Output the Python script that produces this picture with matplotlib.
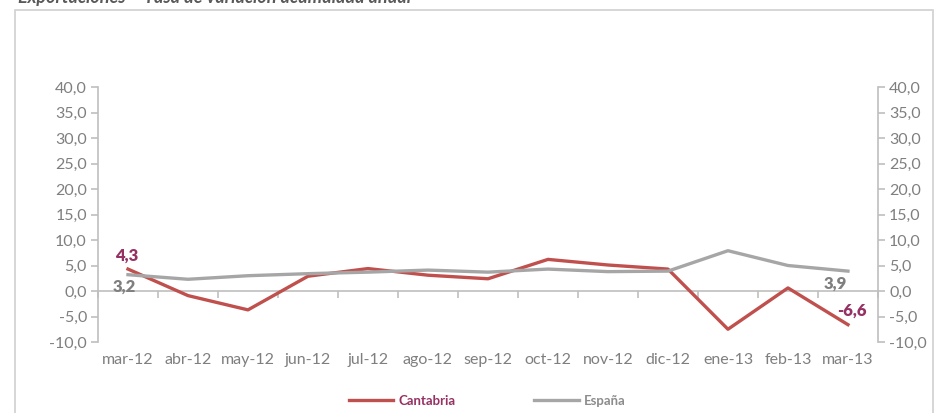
import matplotlib.pyplot as plt
import matplotlib.patches as mpatches

plt.rcParams['font.family'] = ['Lato', 'DejaVu Sans']

# datos
meses = ['mar-12', 'abr-12', 'may-12', 'jun-12', 'jul-12', 'ago-12', 'sep-12',
         'oct-12', 'nov-12', 'dic-12', 'ene-13', 'feb-13', 'mar-13']
cantabria = [4.3, -0.9, -3.7, 2.9, 4.4, 3.1, 2.4, 6.2, 5.1, 4.3, -7.5, 0.6, -6.6]
espana = [3.2, 2.3, 3.0, 3.4, 3.7, 4.1, 3.7, 4.3, 3.8, 3.9, 7.9, 5.0, 3.9]
yticks = [-10, -5, 0, 5, 10, 15, 20, 25, 30, 35, 40]

c_red = '#c0504d'
c_gray = '#a6a6a6'
c_purple = '#953163'
c_lbl = '#7f7f7f'
c_axis = '#bfbfbf'

fig = plt.figure(figsize=(9.35, 4.13), dpi=100)
ax = fig.add_axes([0.1048, 0.1719, 0.8342, 0.6174])

# marco del grafico y titulo cortado
fig.patches.append(mpatches.Rectangle((15 / 935, -0.1), 918 / 935, 1.1 - 10 / 413,
                                      transform=fig.transFigure, fill=False,
                                      edgecolor='#d0d0d0', linewidth=1.2))
fig.text(18 / 935, 1 - 3 / 413, 'Exportaciones \u2013 Tasa de variación acumulada anual',
         fontsize=13, fontweight='bold', fontstyle='italic', color='#595959', va='baseline')

x = list(range(len(meses)))
l1, = ax.plot(x, cantabria, color=c_red, lw=2.4, label='Cantabria', zorder=3)
l2, = ax.plot(x, espana, color=c_gray, lw=2.4, label='España', zorder=3)

ax.set_xlim(-0.5, len(meses) - 0.5)
ax.set_ylim(-10, 40)
ax.set_yticks(yticks)
ax.set_yticklabels([('%.1f' % v).replace('.', ',') for v in yticks])

for s in ['top', 'right']:
    ax.spines[s].set_visible(False)
ax.spines['left'].set_color(c_axis)
ax.spines['bottom'].set_color(c_axis)
ax.spines['bottom'].set_position(('data', 0))
ax.spines['bottom'].set_linewidth(1.2)
ax.spines['left'].set_linewidth(1.2)
ax.tick_params(axis='y', colors=c_axis, labelcolor=c_lbl, labelsize=11.5,
               length=5, width=1.2, direction='out', pad=3)
ax.set_xticks([i - 0.5 for i in x] + [len(meses) - 0.5])
ax.set_xticklabels([])
ax.tick_params(axis='x', colors=c_axis, length=5, width=1.2, direction='out')

# etiquetas de categoria abajo
sec = ax.secondary_xaxis('bottom')
sec.set_xticks(x)
sec.set_xticklabels(meses)
sec.tick_params(length=0, labelcolor=c_lbl, labelsize=11.5, pad=8)
sec.spines['bottom'].set_visible(False)

# eje derecho
ax2 = ax.twinx()
ax2.set_ylim(-10, 40)
ax2.set_yticks(yticks)
ax2.set_yticklabels([('%.1f' % v).replace('.', ',') for v in yticks])
for s in ['top', 'left', 'bottom']:
    ax2.spines[s].set_visible(False)
ax2.spines['right'].set_color(c_axis)
ax2.spines['right'].set_linewidth(1.2)
ax2.tick_params(axis='y', colors=c_axis, labelcolor=c_lbl, labelsize=11.5,
                length=5, width=1.2, direction='out', pad=3)

# etiquetas de datos
fs = 12
ax.annotate(('%.1f' % cantabria[0]).replace('.', ','), (x[0], cantabria[0]),
            xytext=(-1, 4), textcoords='offset points', ha='center', va='bottom',
            color=c_purple, fontweight='heavy', fontsize=fs)
ax.annotate(('%.1f' % espana[0]).replace('.', ','), (x[0], espana[0]),
            xytext=(-3, -3), textcoords='offset points', ha='center', va='top',
            color=c_lbl, fontweight='heavy', fontsize=fs)
ax.annotate(('%.1f' % espana[-1]).replace('.', ','), (x[-1], espana[-1]),
            xytext=(-9, -3), textcoords='offset points', ha='center', va='top',
            color=c_lbl, fontweight='heavy', fontsize=fs)
ax.annotate(('%.1f' % cantabria[-1]).replace('.', ','), (x[-1], cantabria[-1]),
            xytext=(3, 4), textcoords='offset points', ha='center', va='bottom',
            color=c_purple, fontweight='heavy', fontsize=fs)

leg = fig.legend(handles=[l1, l2], loc='center', bbox_to_anchor=(0.521, 1 - 401 / 413),
                 ncol=2, frameon=False, fontsize=9.5, handlelength=3.4,
                 handletextpad=0.35, columnspacing=6)
for t, col in zip(leg.get_texts(), [c_purple, '#8c8c8c']):
    t.set_color(col)
    t.set_fontweight('bold')

fig.savefig('out.png', dpi=100)
